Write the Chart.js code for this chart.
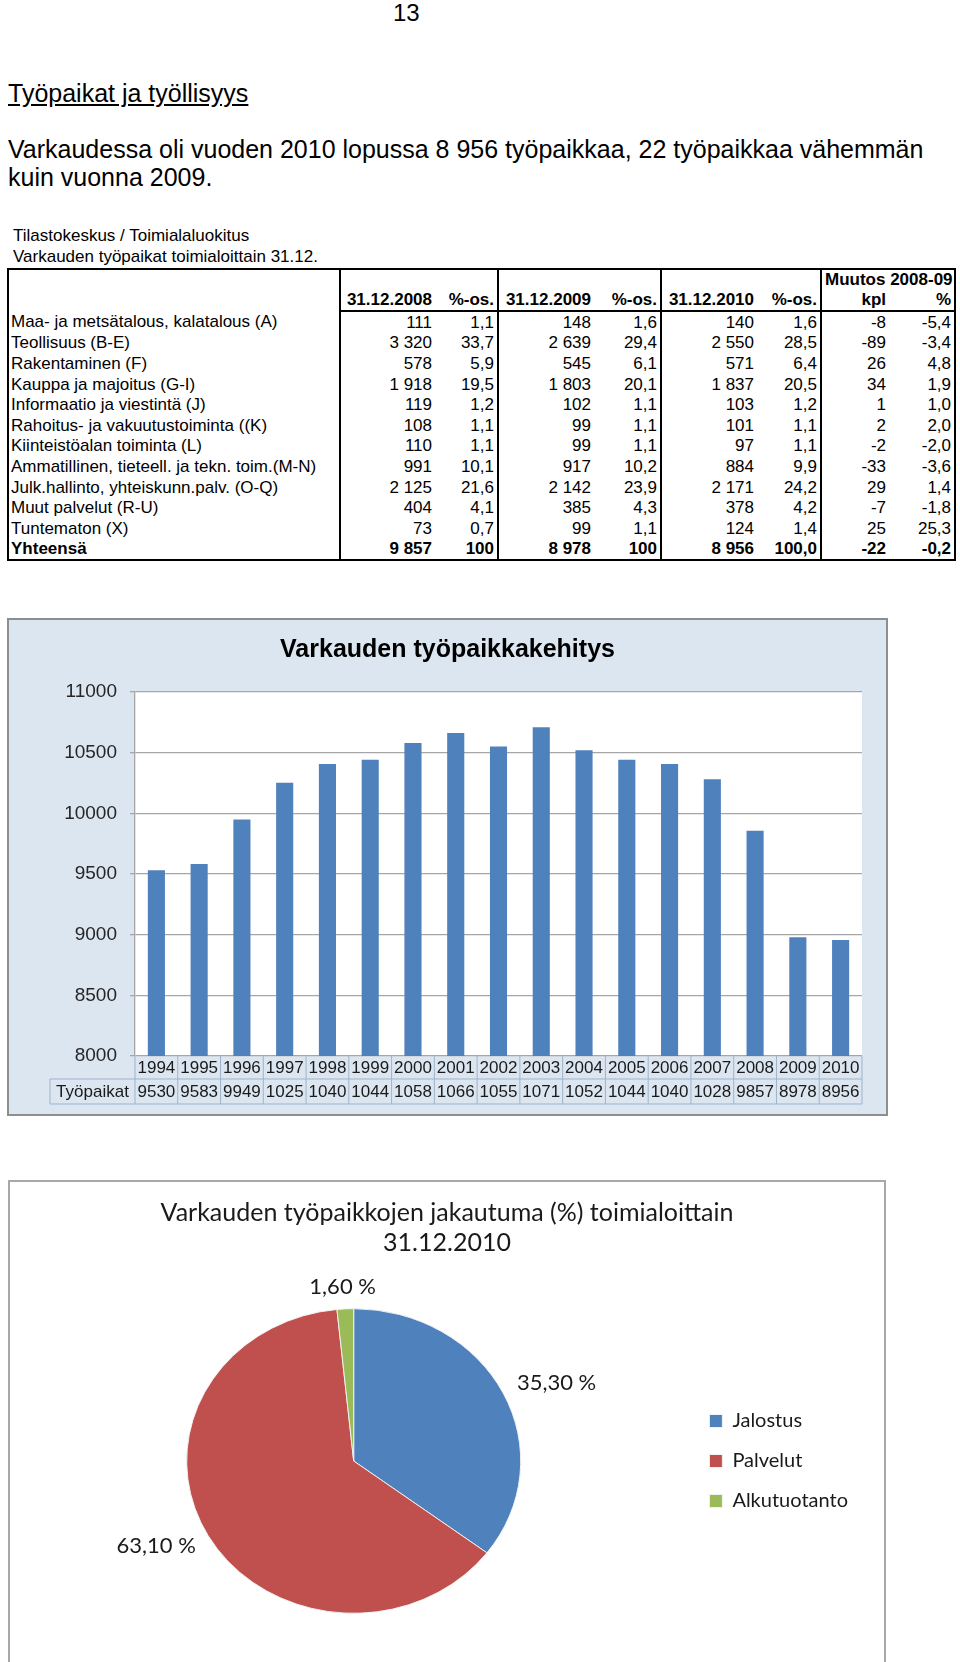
<!DOCTYPE html>
<html>
<head>
<meta charset="utf-8">
<script src="https://cdn.jsdelivr.net/npm/chart.js@4.4.1/dist/chart.umd.min.js"></script>
<style>
  html, body { margin: 0; padding: 0; background: #fff; }
  body { width: 960px; height: 1662px; overflow: hidden; position: relative; font-family: 'Liberation Sans', Arial, sans-serif; color: #000; }
  .pnum { position: absolute; left: 393px; top: -1px; font-size: 24px; line-height: 28px; }
  .h { position: absolute; left: 8px; top: 79px; font-size: 25px; line-height: 28px; text-decoration: underline; }
  .p { position: absolute; left: 8px; top: 135px; width: 945px; font-size: 25px; line-height: 28px; }
  .cap { position: absolute; left: 13px; top: 225px; font-size: 17px; line-height: 21px; }
  #tbl { position: absolute; left: 7px; top: 268px; width: 947px; border-collapse: collapse; table-layout: fixed; border: 2px solid #000; font-size: 17px; }
  #tbl td { padding: 0 3px; height: 20.6px; line-height: 19px; white-space: nowrap; overflow: visible; text-align: right; }
  #tbl td.lab { text-align: left; padding-left: 2px; }
  #tbl td.g { border-right: 2px solid #000; }
  #tbl tr.hd td { font-weight: bold; }
  #tbl tr.hd1 td { height: 18px; }
  #tbl tr.hd2 td { height: 21px; }
  #tbl tr.hd2 td.b { border-bottom: 2px solid #000; }
  #tbl tr.tot td { font-weight: bold; }
  #barBox { position: absolute; left: 7px; top: 618px; width: 877px; height: 494px; border: 2px solid #8e8e8e; background: #dce6f1; }
  #pieBox { position: absolute; left: 8px; top: 1180px; width: 874px; height: 490px; border: 2px solid #a8a8a8; background: #fff; }
  .pieTitle { position: absolute; left: 0; top: 14px; width: 874px; text-align: center; font: 25px/30px Lato, 'Open Sans', sans-serif; color: #1a1a1a; }
  canvas { position: absolute; left: 0; top: 0; }
</style>
</head>
<body>
<div class="pnum">13</div>
<div class="h">Työpaikat ja työllisyys</div>
<div class="p">Varkaudessa oli vuoden 2010 lopussa 8 956 työpaikkaa, 22 työpaikkaa vähemmän kuin vuonna 2009.</div>
<div class="cap">Tilastokeskus / Toimialaluokitus<br>Varkauden työpaikat toimialoittain 31.12.</div>
<table id="tbl"></table>
<div id="barBox"><canvas id="bar" width="877" height="494"></canvas></div>
<div id="pieBox">
  <canvas id="pie" width="874" height="478"></canvas>
  <div class="pieTitle">Varkauden työpaikkojen jakautuma (%) toimialoittain<br>31.12.2010</div>
</div>

<script>
// taulukko: työpaikat toimialoittain
const rowLabels = [
    'Maa- ja metsätalous, kalatalous (A)', 'Teollisuus (B-E)', 'Rakentaminen (F)',
    'Kauppa ja majoitus (G-I)', 'Informaatio ja viestintä (J)', 'Rahoitus- ja vakuutustoiminta ((K)',
    'Kiinteistöalan toiminta (L)', 'Ammatillinen, tieteell. ja tekn. toim.(M-N)',
    'Julk.hallinto, yhteiskunn.palv. (O-Q)', 'Muut palvelut (R-U)', 'Tuntematon (X)', 'Yhteensä'
];
const jobs2008 = [111, 3320, 578, 1918, 119, 108, 110, 991, 2125, 404, 73, 9857];
const pct2008 = ['1,1', '33,7', '5,9', '19,5', '1,2', '1,1', '1,1', '10,1', '21,6', '4,1', '0,7', '100'];
const jobs2009 = [148, 2639, 545, 1803, 102, 99, 99, 917, 2142, 385, 99, 8978];
const pct2009 = ['1,6', '29,4', '6,1', '20,1', '1,1', '1,1', '1,1', '10,2', '23,9', '4,3', '1,1', '100'];
const jobs2010 = [140, 2550, 571, 1837, 103, 101, 97, 884, 2171, 378, 124, 8956];
const pct2010 = ['1,6', '28,5', '6,4', '20,5', '1,2', '1,1', '1,1', '9,9', '24,2', '4,2', '1,4', '100,0'];
const changeKpl = [-8, -89, 26, 34, 1, 2, -2, -33, 29, -7, 25, -22];
const changePct = ['-5,4', '-3,4', '4,8', '1,9', '1,0', '2,0', '-2,0', '-3,6', '1,4', '-1,8', '25,3', '-0,2'];

// pylväskuvio
const years = [1994, 1995, 1996, 1997, 1998, 1999, 2000, 2001, 2002, 2003, 2004, 2005, 2006, 2007, 2008, 2009, 2010];
const workplaces = [9530, 9583, 9949, 10252, 10406, 10442, 10580, 10662, 10550, 10710, 10520, 10442, 10406, 10280, 9857, 8978, 8956];
const yTicks = [8000, 8500, 9000, 9500, 10000, 10500, 11000];

// ympyräkuvio
const sectors = ['Jalostus', 'Palvelut', 'Alkutuotanto'];
const sectorShares = [35.3, 63.1, 1.6];

// --- taulukko
const fmt = n => {
    const s = String(Math.abs(n));
    const t = s.length > 3 ? s.slice(0, -3) + ' ' + s.slice(-3) : s;
    return (n < 0 ? '-' : '') + t;
};
const tbl = document.getElementById('tbl');
let html = '<colgroup><col style="width:332px"><col style="width:95px"><col style="width:63px">' +
    '<col style="width:96px"><col style="width:67px"><col style="width:96px"><col style="width:64px">' +
    '<col style="width:68px"><col style="width:66px"></colgroup>';
html += '<tr class="hd hd1"><td class="lab g"></td><td></td><td class="g"></td><td></td><td class="g"></td>' +
    '<td></td><td class="g"></td><td colspan="2">Muutos 2008-09</td></tr>';
html += '<tr class="hd hd2"><td class="lab g"></td><td class="b">31.12.2008</td><td class="b g">%-os.</td>' +
    '<td class="b">31.12.2009</td><td class="b g">%-os.</td><td class="b">31.12.2010</td><td class="b g">%-os.</td>' +
    '<td class="b">kpl</td><td class="b">%</td></tr>';
rowLabels.forEach((lab, i) => {
    html += '<tr' + (i === rowLabels.length - 1 ? ' class="tot"' : '') + '>' +
        '<td class="lab g">' + lab + '</td>' +
        '<td>' + fmt(jobs2008[i]) + '</td><td class="g">' + pct2008[i] + '</td>' +
        '<td>' + fmt(jobs2009[i]) + '</td><td class="g">' + pct2009[i] + '</td>' +
        '<td>' + fmt(jobs2010[i]) + '</td><td class="g">' + pct2010[i] + '</td>' +
        '<td>' + changeKpl[i] + '</td><td>' + changePct[i] + '</td></tr>';
});
tbl.innerHTML = html;

Chart.defaults.font.family = "'Liberation Sans', Arial, sans-serif";
Chart.defaults.color = '#262626';

// valkoinen piirtoalue
const plotBg = {
    id: 'plotBg',
    beforeDraw(chart) {
        const {ctx, chartArea: a} = chart;
        ctx.save();
        ctx.fillStyle = '#fff';
        ctx.fillRect(a.left, a.top, a.right - a.left, a.bottom - a.top);
        ctx.restore();
    }
};

// arvotaulukko pylväiden alle
const dataTable = {
    id: 'dataTable',
    afterDraw(chart) {
        const {ctx, chartArea: a} = chart;
        const x = chart.scales.x;
        const w = x.getPixelForValue(1) - x.getPixelForValue(0);
        const y0 = a.bottom, y1 = y0 + 23, y2 = y1 + 25;
        const left = 41;
        ctx.save();
        ctx.strokeStyle = '#9fb3c9';
        ctx.lineWidth = 1;
        ctx.beginPath();
        ctx.moveTo(left, y1); ctx.lineTo(a.right, y1);
        ctx.moveTo(left, y2); ctx.lineTo(a.right, y2);
        ctx.moveTo(left, y1); ctx.lineTo(left, y2);
        years.forEach((yr, i) => {
            const xb = x.getPixelForValue(i) - w / 2;
            ctx.moveTo(xb, y0); ctx.lineTo(xb, y2);
        });
        ctx.moveTo(a.right, y0); ctx.lineTo(a.right, y2);
        ctx.stroke();
        ctx.fillStyle = '#1a1a1a';
        ctx.font = "17px 'Liberation Sans', Arial, sans-serif";
        ctx.textAlign = 'center';
        ctx.textBaseline = 'middle';
        years.forEach((yr, i) => {
            const xc = x.getPixelForValue(i);
            ctx.fillText(String(yr), xc, (y0 + y1) / 2 + 1);
            ctx.fillText(String(workplaces[i]).slice(0, 4), xc, (y1 + y2) / 2 + 1);
        });
        ctx.fillText('Työpaikat', (left + a.left) / 2, (y1 + y2) / 2 + 1);
        ctx.restore();
    }
};

new Chart(document.getElementById('bar'), {
    type: 'bar',
    data: {
        labels: years,
        datasets: [{
            label: 'Työpaikat',
            data: workplaces,
            backgroundColor: '#4f81bd',
            barPercentage: 0.4,
            categoryPercentage: 1,
        }],
    },
    options: {
        responsive: false,
        animation: false,
        layout: { padding: { top: 0, right: 24, bottom: 58, left: 24 } },
        plugins: {
            legend: { display: false },
            tooltip: { enabled: false },
            title: {
                display: true,
                text: 'Varkauden työpaikkakehitys',
                color: '#000',
                font: { size: 25, weight: 'bold' },
                padding: { top: 15, bottom: 27 },
            },
        },
        scales: {
            x: { display: false },
            y: {
                min: 8000,
                max: 11000,
                afterFit: s => { s.width = 102; },
                afterBuildTicks: s => { s.ticks = yTicks.map(v => ({ value: v })); },
                ticks: { font: { size: 19 }, color: '#262626', padding: 13, callback: v => String(v) },
                grid: { color: '#a6a6a6', lineWidth: 1.3, tickLength: 5 },
                border: { color: '#a6a6a6', width: 1.3 },
            },
        },
    },
    plugins: [plotBg, dataTable],
});

// ympyrä on kuvassa hieman litistetty ellipsi
const squash = 0.912;
const pieShape = {
    id: 'pieShape',
    beforeDatasetsDraw(chart) {
        const arc = chart.getDatasetMeta(0).data[0];
        const {ctx} = chart;
        ctx.save();
        ctx.translate(arc.x, arc.y);
        ctx.scale(1, squash);
        ctx.translate(-arc.x, -arc.y);
    },
    afterDatasetsDraw(chart) {
        const {ctx} = chart;
        ctx.restore();
        ctx.save();
        ctx.font = "22px Lato, 'Open Sans', sans-serif";
        ctx.fillStyle = '#1a1a1a';
        ctx.textAlign = 'center';
        ctx.textBaseline = 'middle';
        chart.getDatasetMeta(0).data.forEach((arc, i) => {
            const mid = (arc.startAngle + arc.endAngle) / 2;
            const dx = Math.cos(mid), dy = Math.sin(mid);
            const txt = sectorShares[i].toFixed(2).replace('.', ',') + ' %';
            const tw = ctx.measureText(txt).width;
            const px = arc.x + dx * (arc.outerRadius + 20) + dx * tw / 2;
            const py = arc.y + (dy * (arc.outerRadius + 12) + dy * 12) * squash;
            ctx.fillText(txt, px, py);
        });
        ctx.restore();
    }
};

new Chart(document.getElementById('pie'), {
    type: 'pie',
    data: {
        labels: sectors,
        datasets: [{
            data: sectorShares,
            backgroundColor: ['#4f81bd', '#c0504d', '#9bbb59'],
            borderColor: '#f2f2f2',
            borderWidth: 1,
            radius: 167,
        }],
    },
    options: {
        responsive: false,
        animation: false,
        layout: { padding: { top: 100, right: 26, bottom: 20, left: 8 } },
        plugins: {
            tooltip: { enabled: false },
            title: { display: false },
            legend: {
                position: 'right',
                fullSize: false,
                labels: {
                    boxWidth: 13,
                    boxHeight: 13,
                    padding: 20,
                    color: '#1a1a1a',
                    font: { size: 20, family: "Lato, 'Open Sans', sans-serif" },
                },
            },
        },
    },
    plugins: [pieShape],
});
</script>
</body>
</html>
